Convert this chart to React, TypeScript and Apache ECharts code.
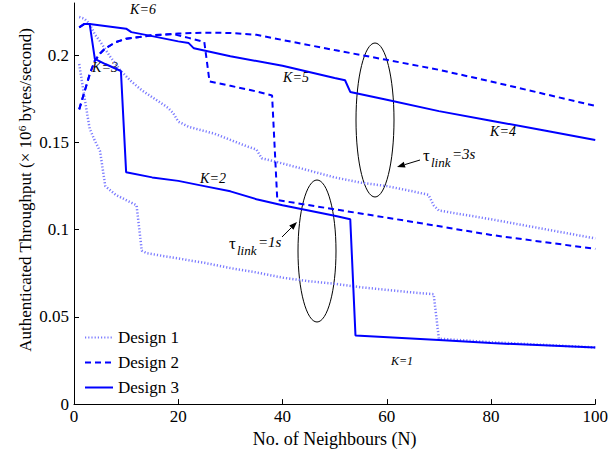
import React, { useEffect, useRef } from "react";
import * as echarts from "echarts";

// Design 1 (dotted), tau_link = 1s
const d1s1N = [1, 2, 3, 4, 5, 6, 8, 10, 12, 13, 14, 20, 25, 30, 35, 40, 45, 50, 55, 60, 65, 69, 70, 80, 90, 100];
const d1s1V = [0.195, 0.176, 0.158, 0.151, 0.145, 0.125, 0.12, 0.117, 0.114, 0.088, 0.0865, 0.0835, 0.081, 0.078, 0.0755, 0.0725, 0.0705, 0.069, 0.067, 0.0655, 0.064, 0.063, 0.0375, 0.0355, 0.034, 0.0325];
// Design 1 (dotted), tau_link = 3s
const d1s3N = [1, 2, 3, 4, 5, 7, 9, 11, 13, 15, 18, 19, 20, 22, 27, 33, 35, 36, 40, 45, 50, 55, 60, 65, 68, 69, 70, 80, 90, 100];
const d1s3V = [0.222, 0.221, 0.218, 0.212, 0.208, 0.199, 0.191, 0.185, 0.18, 0.176, 0.17, 0.167, 0.162, 0.159, 0.155, 0.148, 0.146, 0.141, 0.138, 0.134, 0.13, 0.127, 0.125, 0.122, 0.12, 0.114, 0.111, 0.106, 0.1005, 0.095];
// Design 2 (dashed), tau_link = 3s
const d2s3N = [1, 2, 3, 4, 5, 6, 8, 10, 15, 20, 25, 30, 35, 40, 50, 60, 70, 80, 90, 100];
const d2s3V = [0.169, 0.179, 0.189, 0.197, 0.201, 0.204, 0.2075, 0.2095, 0.2115, 0.2125, 0.213, 0.2128, 0.2118, 0.2088, 0.203, 0.1974, 0.1917, 0.185, 0.178, 0.171];
// Design 2 (dashed), tau_link = 1s
const d2s1N = [1, 2, 3, 4, 5, 6, 8, 10, 15, 19, 22, 25, 26, 30, 34, 38, 39, 50, 60, 66, 72, 80, 90, 100];
const d2s1V = [0.169, 0.179, 0.189, 0.197, 0.201, 0.204, 0.2075, 0.2095, 0.2115, 0.2122, 0.21, 0.2076, 0.185, 0.1825, 0.18, 0.177, 0.117, 0.1117, 0.1069, 0.104, 0.101, 0.097, 0.093, 0.089];
// Design 3 (solid), tau_link = 1s
const d3s1N = [1, 2, 3, 4, 6, 9, 10, 15, 20, 25, 30, 35, 40, 45, 50, 53, 54, 70, 80, 90, 100];
const d3s1V = [0.216, 0.218, 0.218, 0.198, 0.195, 0.191, 0.133, 0.13, 0.128, 0.125, 0.122, 0.1175, 0.114, 0.111, 0.108, 0.106, 0.0394, 0.0367, 0.035, 0.0337, 0.0324];
// Design 3 (solid), tau_link = 3s
const d3s3N = [1, 2, 3, 10, 11, 15, 20, 22, 23, 30, 40, 50, 52, 53, 60, 70, 80, 90, 100];
const d3s3V = [0.216, 0.218, 0.218, 0.2153, 0.2133, 0.211, 0.208, 0.207, 0.204, 0.1995, 0.194, 0.187, 0.1857, 0.179, 0.1745, 0.168, 0.1625, 0.157, 0.1514];

const legendNames = ["Design 1", "Design 2", "Design 3"];
const yTicks = [0, 0.05, 0.1, 0.15, 0.2];
const kLabels = ["K=6", "K=3", "K=5", "K=4", "K=2", "K=1"];

const FONT = "Liberation Serif";
const BLUE = "#0000ff";
const DOT = "#7a7aff";

function pairs(n: number[], v: number[]) {
  return n.map((x, i) => [x, v[i]]);
}

function arrow(x1: number, y1: number, x2: number, y2: number) {
  const dx = x2 - x1, dy = y2 - y1;
  const L = Math.hypot(dx, dy);
  const ux = dx / L, uy = dy / L;
  const hl = 8, hw = 3;
  const bx = x2 - ux * hl, by = y2 - uy * hl;
  const nx = -uy, ny = ux;
  return [
    { type: "line", shape: { x1, y1, x2: bx, y2: by }, style: { stroke: "#000", lineWidth: 1 } },
    {
      type: "polygon",
      shape: { points: [[x2, y2], [bx + nx * hw, by + ny * hw], [bx - nx * hw, by - ny * hw]] },
      style: { fill: "#000" },
    },
  ];
}

function kText(t: string, x: number, y: number, size = 14) {
  return {
    type: "text",
    x, y,
    style: { text: t, font: `italic ${size}px "${FONT}"`, fill: "#000", align: "center", verticalAlign: "middle" },
  };
}

function tau(x: number, y: number, suffix: string) {
  return [
    { type: "text", x, y, style: { text: "τ", font: `17px "${FONT}"`, fill: "#000", align: "left", verticalAlign: "middle" } },
    { type: "text", x: x + 8, y: y + 7, style: { text: "link", font: `italic 13px "${FONT}"`, fill: "#000", align: "left", verticalAlign: "middle" } },
    { type: "text", x: x + 29, y: y - 1, style: { text: suffix, font: `italic 15px "${FONT}"`, fill: "#000", align: "left", verticalAlign: "middle" } },
  ];
}

export default function App() {
  const ref = useRef<HTMLDivElement>(null);
  useEffect(() => {
    if (!ref.current) return;
    const chart = echarts.init(ref.current, undefined, { renderer: "svg" });
    const dotted = { color: DOT, width: 2.5, type: [1.2, 2] };
    const dashed = { color: BLUE, width: 2, type: [6, 4] };
    const solid = { color: BLUE, width: 2, type: "solid" };
    const mk = (name: string, data: number[][], ls: any, color: string) => ({
      name, type: "line", data, symbol: "none", showSymbol: false, lineStyle: ls, itemStyle: { color }, z: 2,
    });
    chart.setOption({
      animation: false,
      backgroundColor: "#fff",
      grid: { left: 74, right: 15, top: 3, bottom: 48 },
      legend: {
        data: legendNames,
        orient: "vertical",
        left: 84,
        top: 329,
        padding: 0,
        itemGap: 8,
        itemWidth: 28,
        itemHeight: 14,
        itemStyle: { opacity: 0 },
        textStyle: { fontFamily: FONT, fontSize: 17, color: "#000" },
      },
      xAxis: {
        type: "value",
        min: 0, max: 100, interval: 20,
        name: "No. of Neighbours (N)",
        nameLocation: "middle",
        nameGap: 17,
        nameTextStyle: { fontFamily: FONT, fontSize: 18, color: "#000" },
        axisLine: { lineStyle: { color: "#000", width: 1 } },
        axisTick: { inside: true, length: 5, lineStyle: { color: "#000" } },
        axisLabel: { fontFamily: FONT, fontSize: 17, color: "#000", margin: 4 },
        splitLine: { show: false },
      },
      yAxis: {
        type: "value",
        min: 0, max: 0.23, interval: 0.05,
        axisLine: { show: true, lineStyle: { color: "#000", width: 1 } },
        axisTick: { show: true, inside: true, length: 5, lineStyle: { color: "#000" }, customValues: yTicks },
        axisLabel: { fontFamily: FONT, fontSize: 17, color: "#000", margin: 5, customValues: yTicks },
        splitLine: { show: false },
      },
      series: [
        mk("Design 1", pairs(d1s1N, d1s1V), dotted, DOT),
        mk("Design 1", pairs(d1s3N, d1s3V), dotted, DOT),
        mk("Design 2", pairs(d2s3N, d2s3V), dashed, BLUE),
        mk("Design 2", pairs(d2s1N, d2s1V), dashed, BLUE),
        mk("Design 3", pairs(d3s1N, d3s1V), solid, BLUE),
        mk("Design 3", pairs(d3s3N, d3s3V), solid, BLUE),
      ],
      graphic: [
        {
          type: "text",
          x: 25, y: 190,
          rotation: Math.PI / 2,
          style: {
            text: "Authenticated Throughput (× 10{sup|6} bytes/second)",
            font: `17px "${FONT}"`,
            fill: "#000",
            align: "center",
            verticalAlign: "middle",
            rich: { sup: { fontSize: 11, fontFamily: FONT, verticalAlign: "top", fill: "#000" } },
          },
        },
        kText(kLabels[0], 143, 9),
        kText(kLabels[1], 105, 67),
        kText(kLabels[2], 296, 77),
        kText(kLabels[3], 503, 131),
        kText(kLabels[4], 213, 178),
        kText(kLabels[5], 402, 361, 12),
        { type: "ellipse", shape: { cx: 375, cy: 120, rx: 19, ry: 77 }, style: { stroke: "#000", fill: "none", lineWidth: 1 } },
        { type: "ellipse", shape: { cx: 317, cy: 251, rx: 19, ry: 71 }, style: { stroke: "#000", fill: "none", lineWidth: 1 } },
        ...arrow(420, 160, 397, 167),
        ...arrow(282, 237, 297, 222),
        ...tau(423, 155, "=3s"),
        ...tau(229, 243, "=1s"),
      ],
    });
    return () => chart.dispose();
  }, []);
  return <div ref={ref} style={{ position: "fixed", left: 0, top: 0, width: 611, height: 453 }} />;
}
